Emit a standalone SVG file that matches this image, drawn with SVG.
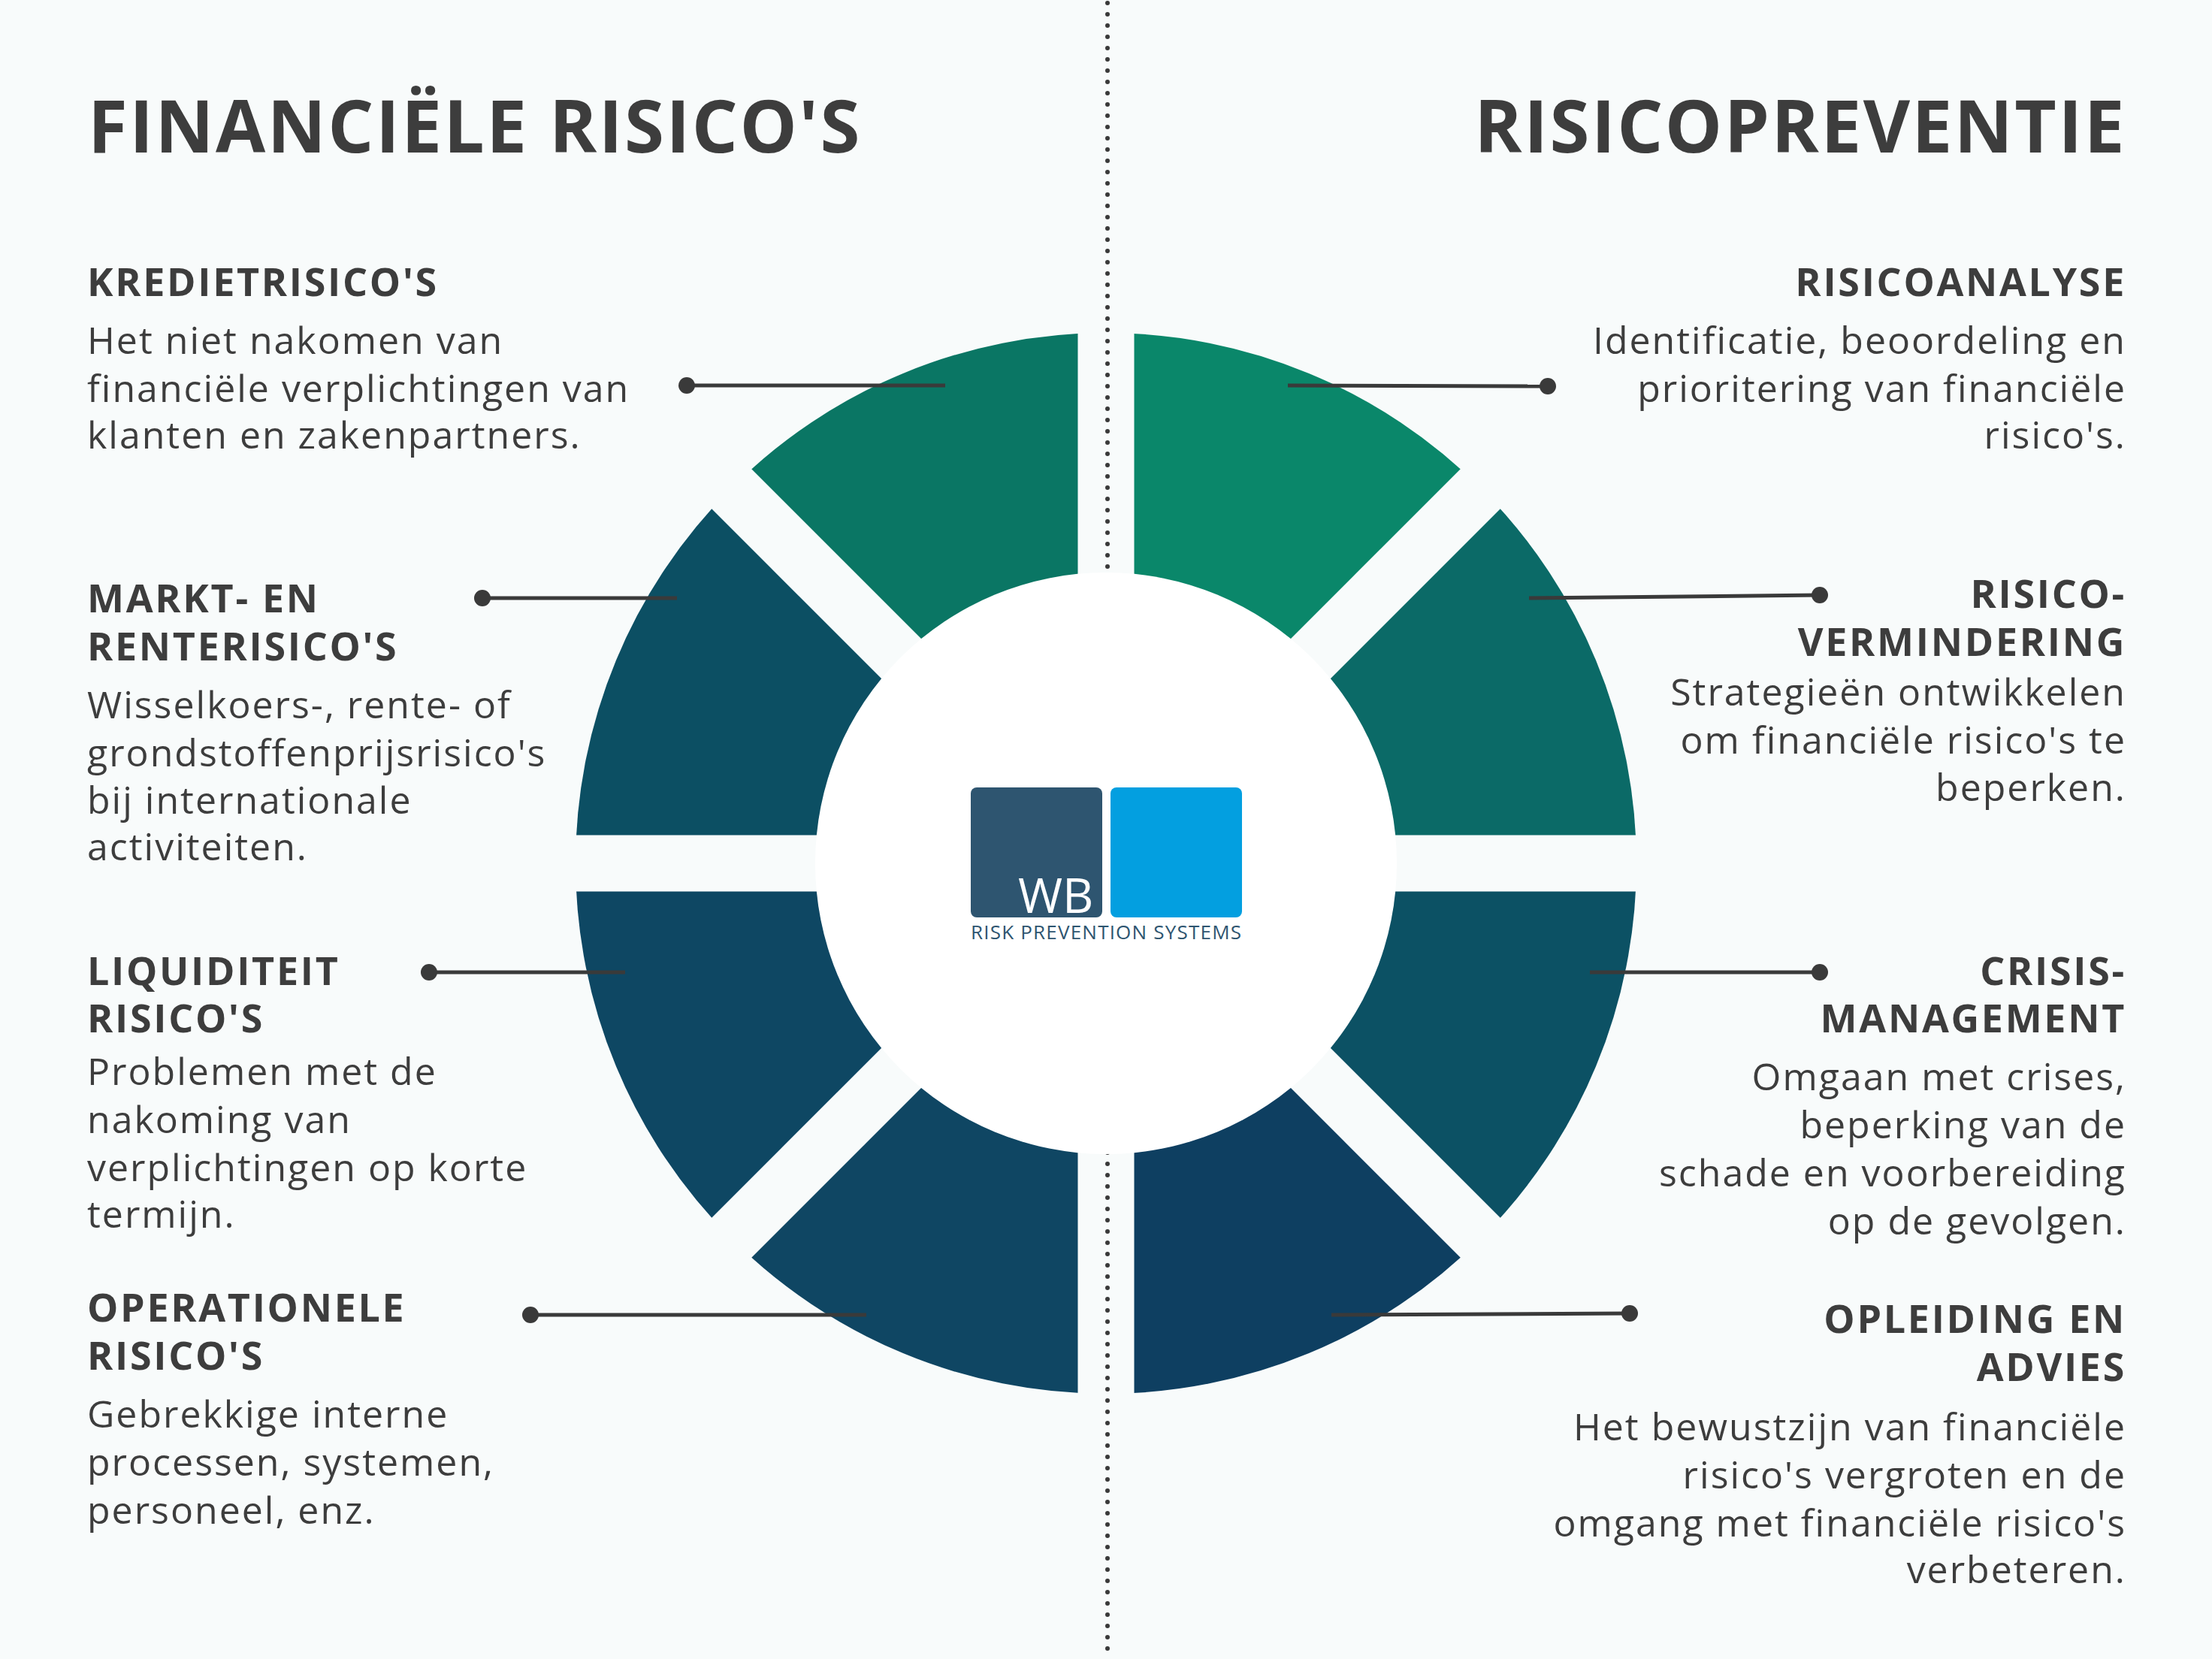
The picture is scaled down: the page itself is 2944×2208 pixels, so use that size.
<svg xmlns="http://www.w3.org/2000/svg" width="2944" height="2208" viewBox="0 0 2944 2208">
<style>
.t{font-family:"Open Sans","Liberation Sans",sans-serif;fill:#3d3d3d}
.h1{font-size:96px;font-weight:700;letter-spacing:2.5px}
.h2{font-size:52px;font-weight:700;letter-spacing:2.7px}
.b{font-size:50px;letter-spacing:2px}
.r{text-anchor:end}
.ln{stroke:#3a3a3a;stroke-width:5}
.gap{stroke:#f8fbfb;stroke-width:75}
</style>
<rect width="2944" height="2208" fill="#f8fbfb"/>
<g id="ring">
<path d="M1472 1149 L1472 443 A706 706 0 0 1 1971 650 Z" fill="#0a876a"/>
<path d="M1472 1149 L1971 650 A706 706 0 0 1 2178 1149 Z" fill="#0b6a67"/>
<path d="M1472 1149 L2178 1149 A706 706 0 0 1 1971 1648 Z" fill="#0c5164"/>
<path d="M1472 1149 L1971 1648 A706 706 0 0 1 1472 1855 Z" fill="#0e3f61"/>
<path d="M1472 1149 L1472 1855 A706 706 0 0 1 973 1648 Z" fill="#0f4663"/>
<path d="M1472 1149 L973 1648 A706 706 0 0 1 766 1149 Z" fill="#0e4763"/>
<path d="M1472 1149 L766 1149 A706 706 0 0 1 973 650 Z" fill="#0c4f63"/>
<path d="M1472 1149 L973 650 A706 706 0 0 1 1472 443 Z" fill="#0a7664"/>
<line class="gap" x1="700" y1="1149" x2="2244" y2="1149"/>
<line class="gap" x1="1472" y1="377" x2="1472" y2="1921"/>
<line class="gap" x1="926" y1="603" x2="2018" y2="1695"/>
<line class="gap" x1="2018" y1="603" x2="926" y2="1695"/>
</g>
<line x1="1474" y1="4" x2="1474" y2="2204" stroke="#3a3a3a" stroke-width="6" stroke-linecap="round" stroke-dasharray="0 15"/>
<circle cx="1472" cy="1149" r="387" fill="#ffffff"/>
<g id="logo">
<rect x="1292" y="1048" width="175" height="173" rx="8" fill="#2e5570"/>
<rect x="1478" y="1048" width="175" height="173" rx="8" fill="#039fe0"/>
<text x="1355" y="1215" font-family="Open Sans,Liberation Sans,sans-serif" font-size="64" fill="#fff">WB</text>
<text x="1292" y="1250" font-family="Open Sans,Liberation Sans,sans-serif" font-size="26" fill="#2e5570" textLength="360">RISK PREVENTION SYSTEMS</text>
</g>
<text class="t h1" x="117" y="203">FINANCIËLE RISICO'S</text>
<text class="t h1 r" x="2830" y="203">RISICOPREVENTIE</text>
<g id="krediet">
<text class="t h2" x="116" y="394">KREDIETRISICO'S</text>
<text class="t b" x="116" y="471">Het niet nakomen van</text>
<text class="t b" x="116" y="535">financiële verplichtingen van</text>
<text class="t b" x="116" y="597">klanten en zakenpartners.</text>
</g>
<g id="markt">
<text class="t h2" x="116" y="815">MARKT- EN</text>
<text class="t h2" x="116" y="879">RENTERISICO'S</text>
<text class="t b" x="116" y="956">Wisselkoers-, rente- of</text>
<text class="t b" x="116" y="1020">grondstoffenprijsrisico's</text>
<text class="t b" x="116" y="1083">bij internationale</text>
<text class="t b" x="116" y="1145">activiteiten.</text>
</g>
<g id="liquiditeit">
<text class="t h2" x="116" y="1311">LIQUIDITEIT</text>
<text class="t h2" x="116" y="1374">RISICO'S</text>
<text class="t b" x="116" y="1444">Problemen met de</text>
<text class="t b" x="116" y="1508">nakoming van</text>
<text class="t b" x="116" y="1572">verplichtingen op korte</text>
<text class="t b" x="116" y="1634">termijn.</text>
</g>
<g id="operationele">
<text class="t h2" x="116" y="1759">OPERATIONELE</text>
<text class="t h2" x="116" y="1823">RISICO'S</text>
<text class="t b" x="116" y="1900">Gebrekkige interne</text>
<text class="t b" x="116" y="1964">processen, systemen,</text>
<text class="t b" x="116" y="2028">personeel, enz.</text>
</g>
<g id="analyse">
<text class="t h2 r" x="2830" y="394">RISICOANALYSE</text>
<text class="t b r" x="2830" y="471">Identificatie, beoordeling en</text>
<text class="t b r" x="2830" y="535">prioritering van financiële</text>
<text class="t b r" x="2830" y="597">risico's.</text>
</g>
<g id="vermindering">
<text class="t h2 r" x="2830" y="809">RISICO-</text>
<text class="t h2 r" x="2830" y="873">VERMINDERING</text>
<text class="t b r" x="2830" y="939">Strategieën ontwikkelen</text>
<text class="t b r" x="2830" y="1003">om financiële risico's te</text>
<text class="t b r" x="2830" y="1066">beperken.</text>
</g>
<g id="crisis">
<text class="t h2 r" x="2830" y="1311">CRISIS-</text>
<text class="t h2 r" x="2830" y="1374">MANAGEMENT</text>
<text class="t b r" x="2830" y="1451">Omgaan met crises,</text>
<text class="t b r" x="2830" y="1515">beperking van de</text>
<text class="t b r" x="2830" y="1579">schade en voorbereiding</text>
<text class="t b r" x="2830" y="1643">op de gevolgen.</text>
</g>
<g id="opleiding">
<text class="t h2 r" x="2830" y="1774">OPLEIDING EN</text>
<text class="t h2 r" x="2830" y="1838">ADVIES</text>
<text class="t b r" x="2830" y="1917">Het bewustzijn van financiële</text>
<text class="t b r" x="2830" y="1981">risico's vergroten en de</text>
<text class="t b r" x="2830" y="2045">omgang met financiële risico's</text>
<text class="t b r" x="2830" y="2107">verbeteren.</text>
</g>
<g id="connectors" fill="#3a3a3a">
<line class="ln" x1="914" y1="513" x2="1258" y2="513"/><circle cx="914" cy="513" r="11"/>
<line class="ln" x1="642" y1="796" x2="901" y2="796"/><circle cx="642" cy="796" r="11"/>
<line class="ln" x1="571" y1="1294" x2="832" y2="1294"/><circle cx="571" cy="1294" r="11"/>
<line class="ln" x1="706" y1="1750" x2="1153" y2="1750"/><circle cx="706" cy="1750" r="11"/>
<line class="ln" x1="1714" y1="513" x2="2060" y2="514"/><circle cx="2060" cy="514" r="11"/>
<line class="ln" x1="2035" y1="796" x2="2422" y2="792"/><circle cx="2422" cy="792" r="11"/>
<line class="ln" x1="2116" y1="1294" x2="2422" y2="1294"/><circle cx="2422" cy="1294" r="11"/>
<line class="ln" x1="1772" y1="1750" x2="2169" y2="1748"/><circle cx="2169" cy="1748" r="11"/>
</g>
</svg>
